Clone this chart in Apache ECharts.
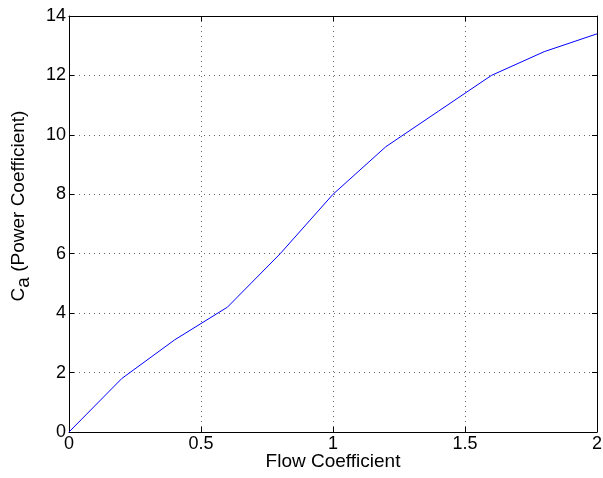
<!DOCTYPE html>
<html>
<head>
<meta charset="utf-8">
<script src="https://cdn.jsdelivr.net/npm/echarts@6/dist/echarts.min.js"></script>
<style>
  html, body { margin: 0; padding: 0; background: #fff; }
  #chart { width: 603px; height: 478px; }
</style>
</head>
<body>
<div id="chart"></div>
<script>
// flow coefficient vs power coefficient
var flowCoeff = [0, 0.2, 0.4, 0.6, 0.8, 1.0, 1.2, 1.4, 1.6, 1.8, 2.0];
var powerCoeff = [0, 1.8, 3.1, 4.2, 6.0, 8.0, 9.6, 10.8, 12.0, 12.8, 13.4];

var font = 'Liberation Sans, Arial, Helvetica, sans-serif';

var points = [];
for (var i = 0; i < flowCoeff.length; i++) {
    points.push([flowCoeff[i], powerCoeff[i]]);
}

var chart = echarts.init(document.getElementById('chart'));

var gridLine = {show: true, lineStyle: {color: '#000', type: [1, 4], width: 1, opacity: 0.6}};
var boxLine = {show: true, onZero: false, lineStyle: {color: '#000', width: 1}};
var ticks = {show: true, inside: true, length: 5, lineStyle: {color: '#000'}};

chart.setOption({
    animation: false,
    grid: {left: 69, right: 6, top: 16, bottom: 46, outerBoundsMode: 'none'},
    xAxis: [
        {
            type: 'value', min: 0, max: 2, interval: 0.5,
            name: 'Flow Coefficient', nameLocation: 'middle', nameGap: 20,
            nameMoveOverlap: false,
            nameTextStyle: {fontFamily: font, fontSize: 19, color: '#000'},
            axisLine: boxLine,
            axisTick: ticks,
            axisLabel: {fontFamily: font, fontSize: 18, color: '#000', margin: 3},
            splitLine: gridLine
        },
        {
            type: 'value', min: 0, max: 2, interval: 0.5, position: 'top',
            axisLine: boxLine,
            axisTick: ticks,
            axisLabel: {show: false},
            splitLine: {show: false}
        }
    ],
    yAxis: [
        {
            type: 'value', min: 0, max: 14, interval: 2,
            name: '{c|C}{sub|a}{c| (Power Coefficient)}', nameLocation: 'middle', nameGap: 36,
            nameMoveOverlap: false,
            nameTextStyle: {
                padding: [0, 0, 0, 36],
                rich: {
                    c: {fontFamily: font, fontSize: 19, color: '#000'},
                    sub: {fontFamily: font, fontSize: 19, color: '#000', verticalAlign: 'bottom', padding: [10, 0, 0, 0]}
                }
            },
            axisLine: boxLine,
            axisTick: ticks,
            axisLabel: {fontFamily: font, fontSize: 18, color: '#000', margin: 3},
            splitLine: gridLine
        },
        {
            type: 'value', min: 0, max: 14, interval: 2, position: 'right',
            axisLine: boxLine,
            axisTick: ticks,
            axisLabel: {show: false},
            splitLine: {show: false}
        }
    ],
    series: [
        {
            type: 'line',
            data: points,
            showSymbol: false,
            lineStyle: {color: '#0000ff', width: 1}
        }
    ]
});
</script>
</body>
</html>
